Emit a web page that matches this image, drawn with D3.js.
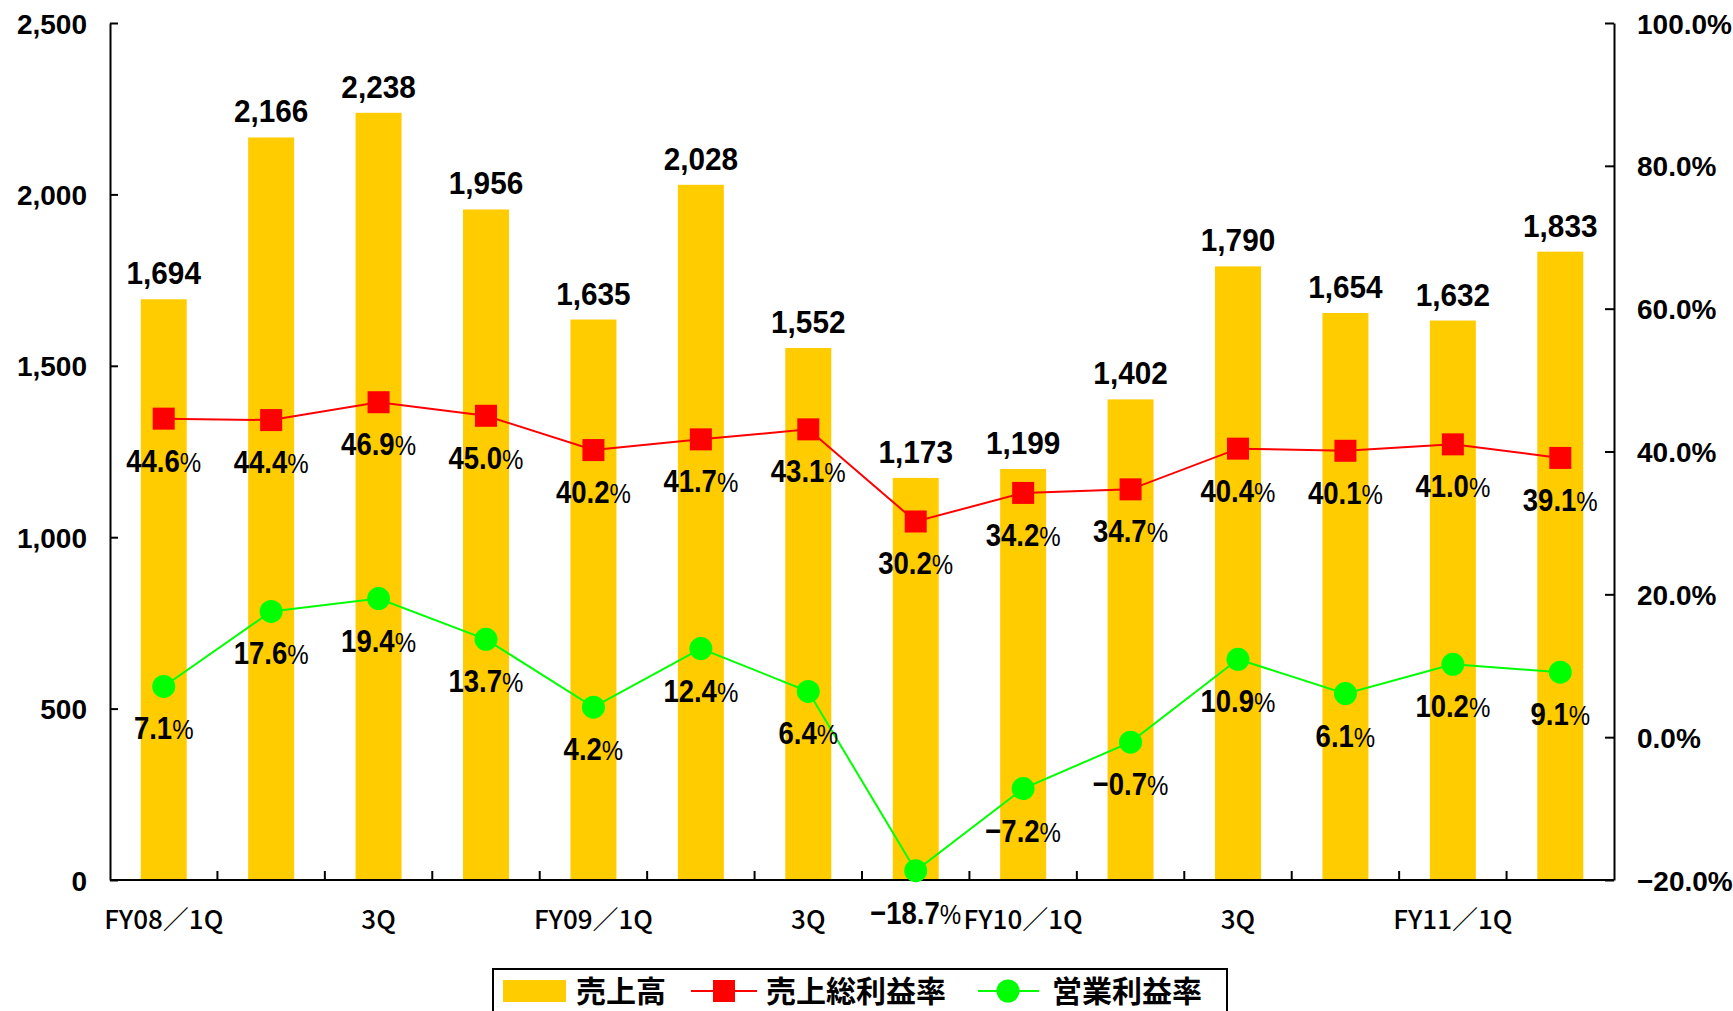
<!DOCTYPE html>
<html>
<head>
<meta charset="utf-8">
<script src="https://cdn.jsdelivr.net/npm/d3@7/dist/d3.min.js"></script>
<style>
  html, body { margin: 0; padding: 0; background: #fff; }
  svg { display: block; }
  .num { font-family: "Liberation Sans", Arial, sans-serif; font-weight: bold; fill: #000; }
  .axis text { font-family: "Liberation Sans", Arial, sans-serif; font-weight: bold; font-size: 28px; fill: #000; }
  .axis path, .axis line { stroke: #000; stroke-width: 2; }
  .xlab text { font-family: "Noto Sans CJK JP", sans-serif; font-weight: 500; font-size: 26px; fill: #000; }
  .legend text { font-family: "Noto Sans CJK JP", sans-serif; font-weight: 700; font-size: 30px; fill: #000; }
</style>
</head>
<body>
<svg id="chart" width="1733" height="1011"></svg>
<script>
// Quarterly results: sales (bars, left axis) and margins (lines, right axis)
const categories = ["FY08/1Q","FY08/2Q","FY08/3Q","FY08/4Q",
                    "FY09/1Q","FY09/2Q","FY09/3Q","FY09/4Q",
                    "FY10/1Q","FY10/2Q","FY10/3Q","FY10/4Q",
                    "FY11/1Q","FY11/2Q"];
const tickLabels = ["FY08／1Q","","3Q","","FY09／1Q","","3Q","","FY10／1Q","","3Q","","FY11／1Q",""];
const sales = [1694, 2166, 2238, 1956, 1635, 2028, 1552, 1173, 1199, 1402, 1790, 1654, 1632, 1833];
const grossMargin = [44.6, 44.4, 46.9, 45.0, 40.2, 41.7, 43.1, 30.2, 34.2, 34.7, 40.4, 40.1, 41.0, 39.1];
const operatingMargin = [7.1, 17.6, 19.4, 13.7, 4.2, 12.4, 6.4, -18.7, -7.2, -0.7, 10.9, 6.1, 10.2, 9.1];
const leftTicks = [0, 500, 1000, 1500, 2000, 2500];
const rightTicks = [-20, 0, 20, 40, 60, 80, 100];
const legendNames = ["売上高", "売上総利益率", "営業利益率"];

const COL_BAR = "#FFCC00", COL_GROSS = "#FF0000", COL_OP = "#00FF00";

const svg = d3.select("#chart");
const plot = { left: 110, right: 1614, top: 23, bottom: 880 };

const x = d3.scaleBand().domain(categories)
  .range([plot.left, plot.right]).paddingInner(0.572).paddingOuter(0.286);
const yL = d3.scaleLinear().domain([0, 2500]).range([plot.bottom, plot.top]);
const yR = d3.scaleLinear().domain([-20, 100]).range([plot.bottom, plot.top]);
const cx = c => x(c) + x.bandwidth() / 2;

const fmtPct = d3.format(".1f");
const fmtNum = d3.format(",");

// bars
svg.append("g").selectAll("rect").data(sales).join("rect")
  .attr("x", (d, i) => x(categories[i]))
  .attr("y", d => yL(d))
  .attr("width", x.bandwidth())
  .attr("height", d => yL(0) - yL(d))
  .attr("fill", COL_BAR);

// left axis
svg.append("g").attr("class", "axis")
  .attr("transform", `translate(${plot.left},0)`)
  .call(d3.axisLeft(yL).tickValues(leftTicks).tickFormat(fmtNum).tickSize(-8).tickSizeOuter(0).tickPadding(23))
  .call(g => g.selectAll("text").attr("dy", "0.36em"));

// right axis
svg.append("g").attr("class", "axis")
  .attr("transform", `translate(${plot.right},0)`)
  .call(d3.axisRight(yR).tickValues(rightTicks).tickFormat(d => fmtPct(d) + "%").tickSize(-9).tickSizeOuter(0).tickPadding(23))
  .call(g => g.selectAll("text").attr("dy", "0.36em").attr("font-size", 27));

// bottom axis with category labels
svg.append("g").attr("class", "axis xlab")
  .attr("transform", `translate(0,${plot.bottom})`)
  .call(d3.axisBottom(x).tickSize(0).tickSizeOuter(0).tickPadding(31).tickFormat((d, i) => tickLabels[i]))
  .call(g => g.select(".domain").attr("d", `M${plot.left},0H${plot.right}`));

// tick marks on category boundaries
svg.append("g").selectAll("line").data(categories.slice(1)).join("line")
  .attr("x1", d => x(d) - x.step() * x.paddingInner() / 2)
  .attr("x2", d => x(d) - x.step() * x.paddingInner() / 2)
  .attr("y1", plot.bottom).attr("y2", plot.bottom - 9)
  .attr("stroke", "#000").attr("stroke-width", 2);

// sales value labels
svg.append("g").selectAll("text").data(sales).join("text")
  .attr("class", "num")
  .attr("font-size", 32)
  .attr("text-anchor", "middle")
  .attr("transform", (d, i) => `translate(${cx(categories[i])},${yL(d) - 15}) scale(0.93,1)`)
  .text(d => fmtNum(d));

// margin lines
const line = d3.line().x((d, i) => cx(categories[i])).y(d => yR(d));
svg.append("path").datum(grossMargin).attr("d", line)
  .attr("fill", "none").attr("stroke", COL_GROSS).attr("stroke-width", 2);
svg.append("path").datum(operatingMargin).attr("d", line)
  .attr("fill", "none").attr("stroke", COL_OP).attr("stroke-width", 2);

const sq = 22;
svg.append("g").selectAll("rect").data(grossMargin).join("rect")
  .attr("x", (d, i) => cx(categories[i]) - sq / 2)
  .attr("y", d => yR(d) - sq / 2)
  .attr("width", sq).attr("height", sq)
  .attr("fill", COL_GROSS);
svg.append("g").selectAll("circle").data(operatingMargin).join("circle")
  .attr("cx", (d, i) => cx(categories[i]))
  .attr("cy", d => yR(d))
  .attr("r", 11.5)
  .attr("fill", COL_OP);

// margin value labels, placed below each marker
function pctLabels(values) {
  const t = svg.append("g").selectAll("text").data(values).join("text")
    .attr("class", "num")
    .attr("font-size", 32)
    .attr("text-anchor", "middle")
    .attr("transform", (d, i) => `translate(${cx(categories[i])},${yR(d) + 53}) scale(0.86,1)`);
  t.append("tspan").text(d => fmtPct(d));
  t.append("tspan").attr("font-weight", "normal").attr("font-size", 28).text("%");
}
pctLabels(grossMargin);
pctLabels(operatingMargin);

// legend
const lg = svg.append("g").attr("class", "legend");
lg.append("rect").attr("x", 493).attr("y", 969).attr("width", 734).attr("height", 60)
  .attr("fill", "#fff").attr("stroke", "#000").attr("stroke-width", 2);
const ly = 991;
lg.append("rect").attr("x", 503).attr("y", ly - 11).attr("width", 63).attr("height", 22).attr("fill", COL_BAR);
lg.append("text").attr("x", 576).attr("y", ly).attr("dy", "0.36em").text(legendNames[0]);
lg.append("line").attr("x1", 691).attr("x2", 757).attr("y1", ly).attr("y2", ly)
  .attr("stroke", COL_GROSS).attr("stroke-width", 2);
lg.append("rect").attr("x", 724 - sq / 2).attr("y", ly - sq / 2).attr("width", sq).attr("height", sq).attr("fill", COL_GROSS);
lg.append("text").attr("x", 766).attr("y", ly).attr("dy", "0.36em").text(legendNames[1]);
lg.append("line").attr("x1", 978).attr("x2", 1039).attr("y1", ly).attr("y2", ly)
  .attr("stroke", COL_OP).attr("stroke-width", 2);
lg.append("circle").attr("cx", 1008).attr("cy", ly).attr("r", 11.5).attr("fill", COL_OP);
lg.append("text").attr("x", 1052).attr("y", ly).attr("dy", "0.36em").text(legendNames[2]);
</script>
</body>
</html>
